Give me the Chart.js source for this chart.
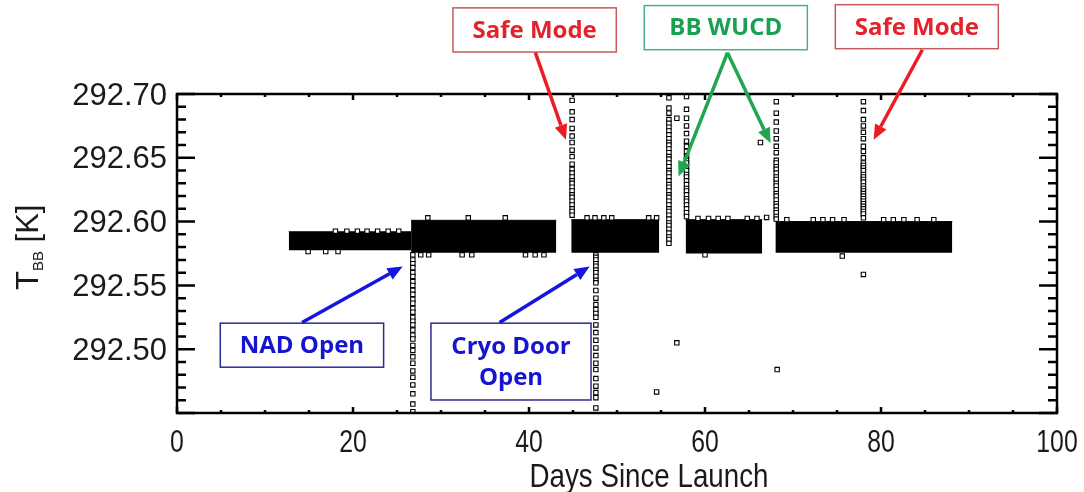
<!DOCTYPE html>
<html>
<head>
<meta charset="utf-8">
<script src="https://cdn.jsdelivr.net/npm/chart.js@4.4.1/dist/chart.umd.min.js"></script>
<style>
  html, body { margin: 0; padding: 0; background: #fff; }
</style>
</head>
<body>
<canvas id="chart" width="1084" height="492"></canvas>
<script>
// dense bands of BB temperature (days since launch, K)
const bandStart = [12.7, 26.6, 44.8, 57.8, 68.0];
const bandEnd   = [26.6, 43.1, 54.8, 66.5, 88.1];
const bandLow   = [292.5776, 292.5755, 292.5755, 292.5750, 292.5755];
const bandHigh  = [292.5920, 292.6010, 292.6015, 292.6015, 292.6000];

// vertical runs of samples at events
const nadOpenDay = 26.8;
const nadOpenK = [292.574, 292.570, 292.567, 292.564, 292.560, 292.557, 292.553, 292.550, 292.546, 292.543,
  292.539, 292.536, 292.532, 292.529, 292.525, 292.522, 292.519, 292.515, 292.511, 292.508,
  292.503, 292.499, 292.494, 292.489, 292.483, 292.478, 292.472, 292.465, 292.457, 292.451];
const safeMode1Day = 44.9;
const safeMode1K = [292.695, 292.686, 292.680, 292.673, 292.667, 292.662, 292.656, 292.651, 292.645, 292.641,
  292.638, 292.635, 292.632, 292.630, 292.627, 292.624, 292.621, 292.619, 292.616, 292.613, 292.610, 292.608, 292.605];
const cryoDoorDay = 47.6;
const cryoDoorK = [292.574, 292.572, 292.570, 292.567, 292.565, 292.562, 292.560, 292.557, 292.554, 292.552,
  292.546, 292.540, 292.535, 292.531, 292.528, 292.525, 292.519, 292.513, 292.507, 292.501,
  292.495, 292.489, 292.484, 292.477, 292.471, 292.466, 292.462, 292.454];
const wucd1Day = 55.9;
const wucd1K = [292.697, 292.689, 292.685, 292.680, 292.677, 292.674, 292.671, 292.668, 292.665, 292.662,
  292.660, 292.657, 292.654, 292.651, 292.649, 292.646, 292.643, 292.640, 292.638, 292.635,
  292.632, 292.629, 292.627, 292.624, 292.621, 292.619, 292.616, 292.613, 292.610, 292.608,
  292.605, 292.602, 292.599, 292.597, 292.594, 292.591, 292.588, 292.586, 292.583];
const wucd2Day = 57.9;
const wucd2K = [292.698, 292.688, 292.681, 292.675, 292.669, 292.663, 292.659, 292.655, 292.651, 292.648,
  292.646, 292.643, 292.640, 292.637, 292.635, 292.632, 292.629, 292.626, 292.624, 292.621,
  292.618, 292.616, 292.613, 292.610, 292.607, 292.604];
const wucd3Day = 68.1;
const wucd3K = [292.694, 292.685, 292.678, 292.671, 292.665, 292.659, 292.654, 292.648, 292.646, 292.643,
  292.641, 292.638, 292.635, 292.633, 292.630, 292.628, 292.625, 292.622, 292.620, 292.617,
  292.614, 292.612, 292.609, 292.607, 292.604, 292.602];
const safeMode2Day = 78.0;
const safeMode2K = [292.694, 292.687, 292.680, 292.675, 292.670, 292.665, 292.659, 292.655, 292.650, 292.646,
  292.644, 292.642, 292.640, 292.637, 292.635, 292.633, 292.631, 292.628, 292.626, 292.624,
  292.622, 292.620, 292.618, 292.616, 292.614, 292.612, 292.610, 292.608, 292.606, 292.603];

// ragged band edges and isolated samples
const edgeDays = [18.0, 19.3, 20.5, 21.6, 22.8, 24.0, 25.2, 14.9, 16.9, 18.3,
  28.5, 33.1, 37.3, 27.7, 28.6, 32.4, 33.5, 39.6, 40.7, 41.7,
  46.6, 47.5, 48.5, 49.4, 53.6, 54.5,
  59.2, 60.4, 61.5, 62.6, 64.8, 65.9, 60.0,
  69.3, 72.3, 73.4, 74.5, 75.8, 80.3, 81.4, 82.6, 84.1, 86.0, 75.6];
const edgeK = [292.5925, 292.5925, 292.5925, 292.5925, 292.5925, 292.5925, 292.5925, 292.5765, 292.5765, 292.5765,
  292.603, 292.603, 292.603, 292.574, 292.574, 292.574, 292.574, 292.574, 292.574, 292.574,
  292.603, 292.603, 292.603, 292.603, 292.603, 292.603,
  292.6025, 292.6025, 292.6025, 292.6025, 292.6025, 292.6025, 292.5740,
  292.6015, 292.6015, 292.6015, 292.6015, 292.6015, 292.6015, 292.6015, 292.6015, 292.6015, 292.6015, 292.573];
const outlierDays = [56.8, 66.3, 67.0, 56.8, 54.5, 68.2, 78.0];
const outlierK = [292.681, 292.662, 292.6033, 292.505, 292.4665, 292.484, 292.5586];

const xTickLabels = [0, 20, 40, 60, 80, 100];
const yTickLabels = ['292.50', '292.55', '292.60', '292.65', '292.70'];

// boxes and arrows in data units
const notes = [
  { lines: ['Safe Mode'], color: '#e4222b', edge: '#c65a5c', x0: 31.36, x1: 49.92, y0: 292.7675, y1: 292.7329 },
  { lines: ['BB WUCD'], color: '#18a152', edge: '#4bae8c', x0: 53.10, x1: 71.63, y0: 292.7693, y1: 292.7347 },
  { lines: ['Safe Mode'], color: '#e4222b', edge: '#c65a5c', x0: 74.81, x1: 93.33, y0: 292.7700, y1: 292.7355 },
  { lines: ['NAD Open'], color: '#1414d2', edge: '#2a2a96', x0: 4.92, x1: 23.48, y0: 292.5204, y1: 292.4859 },
  { lines: ['Cryo Door', 'Open'], color: '#1414d2', edge: '#2a2a96', x0: 28.86, x1: 47.05, y0: 292.5204, y1: 292.4602 }
];
const arrows = [
  { from: [40.72, 292.7324], to: [44.2, 292.6642], color: '#ec1c24' },
  { from: [62.56, 292.7324], to: [57.0, 292.6354], color: '#1fa64e' },
  { from: [62.56, 292.7324], to: [67.44, 292.6616], color: '#1fa64e' },
  { from: [84.7, 292.7347], to: [79.16, 292.6642], color: '#ec1c24' },
  { from: [14.21, 292.5209], to: [25.64, 292.5648], color: '#1515e0' },
  { from: [36.66, 292.5209], to: [46.89, 292.5648], color: '#1515e0' }
];

const spikes = [
  [nadOpenDay, nadOpenK], [safeMode1Day, safeMode1K], [cryoDoorDay, cryoDoorK],
  [wucd1Day, wucd1K], [wucd2Day, wucd2K], [wucd3Day, wucd3K], [safeMode2Day, safeMode2K]
];

const points = [];
spikes.forEach(([d, ks]) => ks.forEach(k => points.push({ x: d, y: k })));
edgeDays.forEach((d, i) => points.push({ x: d, y: edgeK[i] }));
outlierDays.forEach((d, i) => points.push({ x: d, y: outlierK[i] }));

const datasets = [{
  type: 'scatter',
  data: points,
  pointStyle: 'rect',
  pointRadius: 3.1,
  borderWidth: 1.1,
  borderColor: '#000',
  backgroundColor: '#fff',
  order: 0
}];
bandStart.forEach((s, i) => {
  datasets.push({
    type: 'line',
    data: [{ x: s, y: bandHigh[i] }, { x: bandEnd[i], y: bandHigh[i] }],
    fill: { value: bandLow[i] },
    borderColor: '#000',
    borderWidth: 1,
    backgroundColor: '#000',
    pointRadius: 0,
    order: 1
  });
});

const sans = '"Liberation Sans", Arial, sans-serif';
const noteFont = '"Open Sans", "Noto Sans", sans-serif';

const framePlugin = {
  id: 'frame',
  afterDraw(chart) {
    const { ctx, chartArea: a, scales: { x, y } } = chart;
    ctx.save();
    ctx.strokeStyle = '#000';
    ctx.lineWidth = 2.5;
    ctx.beginPath();
    x.ticks.forEach(t => {
      const px = x.getPixelForValue(t.value);
      const len = xTickLabels.includes(t.value) ? 6 : 3;
      ctx.moveTo(px, a.bottom); ctx.lineTo(px, a.bottom - len);
      ctx.moveTo(px, a.top); ctx.lineTo(px, a.top + len);
    });
    y.ticks.forEach(t => {
      const py = y.getPixelForValue(t.value);
      const len = Math.round(t.value * 100) % 5 === 0 ? 18 : 9;
      ctx.moveTo(a.left, py); ctx.lineTo(a.left + len, py);
      ctx.moveTo(a.right, py); ctx.lineTo(a.right - len, py);
    });
    ctx.stroke();
    ctx.strokeRect(a.left, a.top, a.right - a.left, a.bottom - a.top);

    // condensed x tick labels, placed by the x scale
    ctx.fillStyle = '#1a1a1a';
    ctx.textAlign = 'center';
    ctx.textBaseline = 'alphabetic';
    xTickLabels.forEach(v => {
      const px = x.getPixelForValue(v);
      ctx.save();
      ctx.translate(px, a.bottom + 39);
      ctx.scale(0.8, 1);
      ctx.font = '31px ' + sans;
      ctx.fillText(String(v), 0, 0);
      ctx.restore();
    });

    // axis titles
    ctx.save();
    ctx.translate(649, 487);
    ctx.scale(0.84, 1);
    ctx.font = '33px ' + sans;
    ctx.fillText('Days Since Launch', 0, 0);
    ctx.restore();

    ctx.translate(38, 290);
    ctx.rotate(-Math.PI / 2);
    ctx.textAlign = 'left';
    ctx.font = '31px ' + sans;
    ctx.fillText('T', 0, 0);
    let w = ctx.measureText('T').width;
    ctx.font = '15px ' + sans;
    ctx.fillText('BB', w, 5);
    w += ctx.measureText('BB').width;
    ctx.font = '31px ' + sans;
    ctx.fillText(' [K]', w, 0);
    ctx.restore();

    // annotations
    ctx.save();
    notes.forEach(n => {
      const l = x.getPixelForValue(n.x0), r = x.getPixelForValue(n.x1);
      const t = y.getPixelForValue(n.y0), b = y.getPixelForValue(n.y1);
      ctx.fillStyle = '#fff';
      ctx.fillRect(l, t, r - l, b - t);
      ctx.strokeStyle = n.edge;
      ctx.lineWidth = 1.5;
      ctx.strokeRect(l, t, r - l, b - t);
      ctx.fillStyle = n.color;
      ctx.font = 'bold 24px ' + noteFont;
      ctx.textAlign = 'center';
      ctx.textBaseline = 'middle';
      const cy = (t + b) / 2, lh = 31;
      n.lines.forEach((s, i) => {
        ctx.fillText(s, (l + r) / 2, cy + (i - (n.lines.length - 1) / 2) * lh + 1);
      });
    });
    arrows.forEach(ar => {
      const x0 = x.getPixelForValue(ar.from[0]), y0 = y.getPixelForValue(ar.from[1]);
      const x1 = x.getPixelForValue(ar.to[0]), y1 = y.getPixelForValue(ar.to[1]);
      const ang = Math.atan2(y1 - y0, x1 - x0);
      const head = 15, half = 6.5;
      const bx = x1 - head * Math.cos(ang), by = y1 - head * Math.sin(ang);
      ctx.strokeStyle = ar.color;
      ctx.fillStyle = ar.color;
      ctx.lineWidth = 3.5;
      ctx.beginPath();
      ctx.moveTo(x0, y0); ctx.lineTo(bx, by);
      ctx.stroke();
      ctx.beginPath();
      ctx.moveTo(x1, y1);
      ctx.lineTo(bx + half * Math.sin(ang), by - half * Math.cos(ang));
      ctx.lineTo(bx - half * Math.sin(ang), by + half * Math.cos(ang));
      ctx.closePath();
      ctx.fill();
    });
    ctx.restore();
  }
};

new Chart(document.getElementById('chart'), {
  type: 'scatter',
  data: { datasets },
  options: {
    responsive: false,
    animation: false,
    devicePixelRatio: 1,
    layout: { padding: { top: 94, right: 27, left: 0, bottom: 0 } },
    plugins: { legend: { display: false }, tooltip: { enabled: false } },
    scales: {
      x: {
        type: 'linear', min: 0, max: 100,
        grid: { display: false, drawTicks: false },
        border: { display: false },
        ticks: {
          stepSize: 5, autoSkip: false, maxRotation: 0,
          callback: () => ''
        },
        afterFit: s => { s.height = 79; s.paddingLeft = 0; s.paddingRight = 0; }
      },
      y: {
        min: 292.45, max: 292.70,
        grid: { display: false, drawTicks: false },
        border: { display: false },
        ticks: {
          stepSize: 0.01, autoSkip: false, padding: 10, labelOffset: 2,
          color: '#1a1a1a', font: { family: sans, size: 31 },
          callback: v => yTickLabels.includes(v.toFixed(2)) ? v.toFixed(2) : ''
        },
        afterFit: s => { s.width = 177; s.paddingTop = 0; s.paddingBottom = 0; }
      }
    }
  },
  plugins: [framePlugin]
});
</script>
</body>
</html>
